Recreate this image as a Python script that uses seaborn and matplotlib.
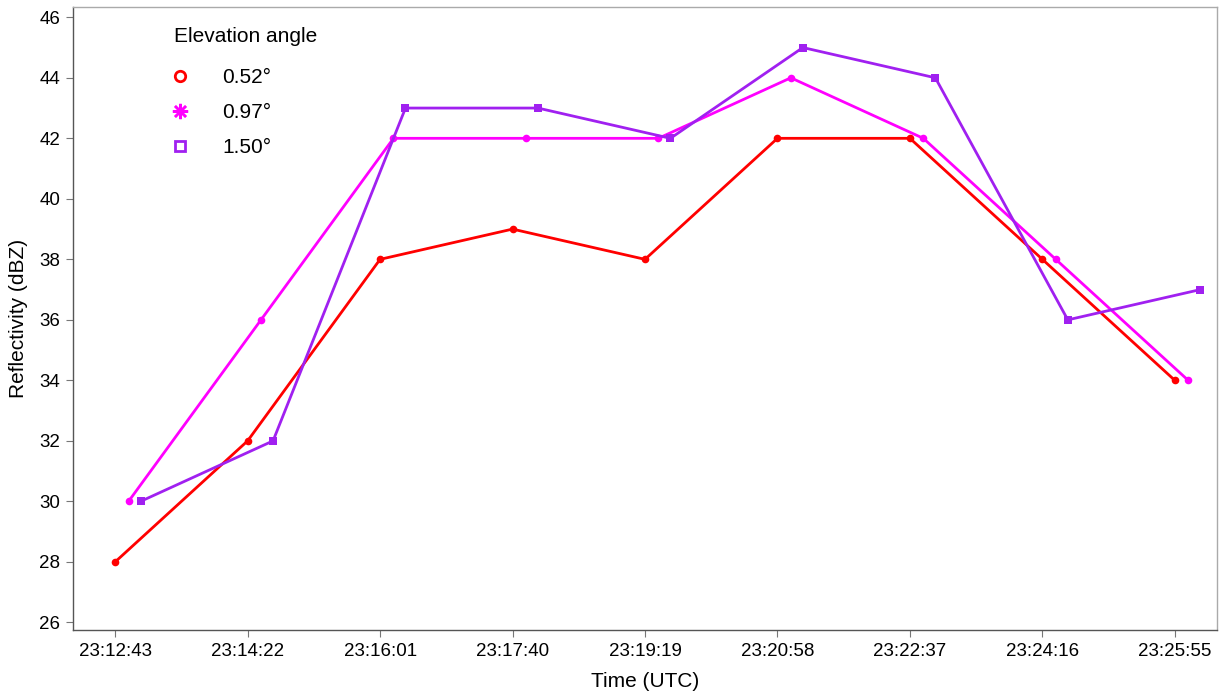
import numpy as np
import pandas as pd
import matplotlib
matplotlib.use("Agg")
import matplotlib.pyplot as plt
from matplotlib.lines import Line2D
import seaborn as sns

# Scan times (seconds after 23:12:43) and reflectivity per elevation angle
tick_labels = ["23:12:43", "23:14:22", "23:16:01", "23:17:40", "23:19:19",
               "23:20:58", "23:22:37", "23:24:16", "23:25:55"]
tick_seconds = [0, 99, 198, 297, 396, 495, 594, 693, 792]

angles = ["0.52°", "0.97°", "1.50°"]
t_052 = [0, 99, 198, 297, 396, 495, 594, 693, 792]
t_097 = [10, 109, 208, 307, 406, 505, 604, 703, 802]
t_150 = [19, 118, 217, 316, 415, 514, 613, 712, 811]
dbz_052 = [28, 32, 38, 39, 38, 42, 42, 38, 34]
dbz_097 = [30, 36, 42, 42, 42, 44, 42, 38, 34]
dbz_150 = [30, 32, 43, 43, 42, 45, 44, 36, 37]

colors = {"0.52°": "#FF0000", "0.97°": "#FF00FF", "1.50°": "#A020F0"}

df = pd.DataFrame({
    "t": t_052 + t_097 + t_150,
    "dbz": dbz_052 + dbz_097 + dbz_150,
    "angle": [angles[0]] * len(t_052) + [angles[1]] * len(t_097) + [angles[2]] * len(t_150),
})

sns.set_theme(style="white")
plt.rcParams["font.family"] = ["Liberation Sans", "DejaVu Sans"]
plt.rcParams["text.color"] = "black"
plt.rcParams["axes.labelcolor"] = "black"

fig = plt.figure(figsize=(12.25, 6.94), dpi=100)
ax = fig.add_axes([73 / 1225, 64 / 694, (1217 - 73) / 1225, (630 - 7) / 694])

sns.lineplot(data=df, x="t", y="dbz", hue="angle", style="angle",
             palette=colors, markers={"0.52°": "o", "0.97°": "o", "1.50°": "s"},
             dashes=False, linewidth=2.0, markersize=5.5, markeredgewidth=0,
             legend=False, ax=ax)

ax.set_xlim(-31.5, 823.5)
ax.set_ylim(25.75, 46.34)
ax.set_xticks(tick_seconds)
ax.set_xticklabels(tick_labels)
ax.set_yticks(np.arange(26, 47, 2))
ax.tick_params(axis="both", which="major", direction="out", length=5, width=0.8,
               color="#777777", labelsize=13.5, labelcolor="black", pad=4,
               bottom=True, left=True)
ax.set_xlabel("Time (UTC)", fontsize=15, labelpad=9, color="black")
ax.set_ylabel("Reflectivity (dBZ)", fontsize=15, labelpad=8, color="black")

for side in ["left", "bottom"]:
    ax.spines[side].set_color("#555555")
    ax.spines[side].set_linewidth(1.0)
for side in ["top", "right"]:
    ax.spines[side].set_color("#AAAAAA")
    ax.spines[side].set_linewidth(1.0)

handles = [
    Line2D([], [], linestyle="none", marker="o", markersize=7.5, markerfacecolor="none",
           markeredgecolor=colors["0.52°"], markeredgewidth=2.0),
    Line2D([], [], linestyle="none", marker=(8, 2, 0), markersize=11,
           markeredgecolor=colors["0.97°"], markeredgewidth=1.8),
    Line2D([], [], linestyle="none", marker="s", markersize=7.5, markerfacecolor="none",
           markeredgecolor=colors["1.50°"], markeredgewidth=2.0),
]
leg = ax.legend(handles, angles, title="Elevation angle", loc="upper left",
                bbox_to_anchor=(0.081, 0.982), frameon=False, fontsize=15,
                title_fontsize=15, handlelength=0.6, handletextpad=1.7,
                labelspacing=0.76, alignment="left", borderaxespad=0)
# a bit more room between the title and the first entry
leg._legend_box.sep = 16.4
for txt in leg.get_texts():
    txt.set_color("black")
leg.get_title().set_color("black")

fig.savefig("out.png", dpi=100, facecolor="white")
